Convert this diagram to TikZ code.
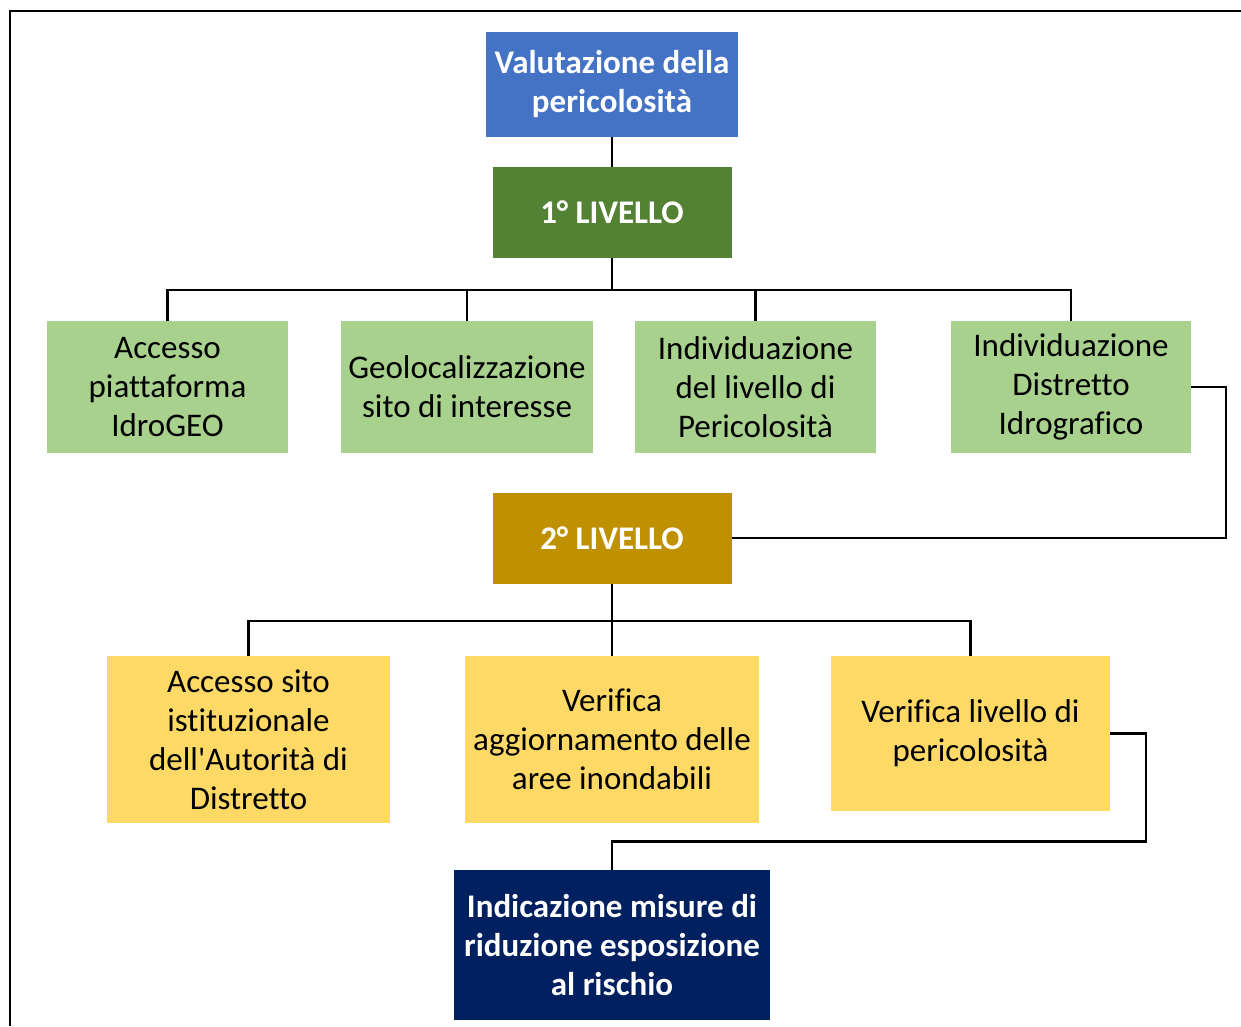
\documentclass[tikz,border=0pt]{standalone}
\usepackage{fontspec}
\setmainfont{Carlito}[Ligatures={NoCommon,TeXOff}]
\usepackage{tikz}
\usetikzlibrary{backgrounds}
\definecolor{hzblue}{HTML}{4472C4}
\definecolor{hzgreen}{HTML}{548235}
\definecolor{hzlight}{HTML}{A9D18E}
\definecolor{hzgold}{HTML}{BF9000}
\definecolor{hzyellow}{HTML}{FFD966}
\definecolor{hznavy}{HTML}{002060}

\begin{document}
\begin{tikzpicture}[x=1pt, y=-1pt,
  head/.style={fill=hzblue, text=white, align=center, inner sep=0pt,
    font=\fontsize{33}{39}\selectfont\bfseries},
  lvl/.style={inner sep=0pt, text=white, align=center, minimum width=239pt, minimum height=91pt,
    font=\fontsize{33}{39}\selectfont\bfseries},
  stepone/.style={fill=hzlight, align=center, inner sep=0pt, minimum height=132pt,
    font=\fontsize{33}{39}\selectfont},
  steptwo/.style={fill=hzyellow, align=center, inner sep=0pt,
    font=\fontsize{33}{39}\selectfont},
  edge/.style={draw=black, line width=2.2pt}]
  \useasboundingbox (0,0) rectangle (1241,1026);
  \draw[line width=1.4pt] (10,1026) -- (10,11) -- (1241,11);
  \node[head, minimum width=252pt, minimum height=105pt] (VP) at (612,84.5) {Valutazione della\\pericolosità};
  \node[lvl, fill=hzgreen] (L1) at (612,212.5) {1° LIVELLO};
  \node[stepone, minimum width=241pt] (A1) at (167.5,387) {Accesso\\piattaforma\\IdroGEO};
  \node[stepone, minimum width=252pt] (A2) at (467,387) {Geolocalizzazione\\sito di interesse};
  \node[stepone, minimum width=241pt] (A3) at (755.5,387) {Individuazione\\del livello di\\Pericolosità};
  \node[stepone, minimum width=240pt] (A4) at (1071,387) {Individuazione\\Distretto\\Idrografico};
  \node[lvl, fill=hzgold] (L2) at (612,538) {2° LIVELLO};
  \node[steptwo, minimum width=283pt, minimum height=167pt] (B1) at (248.5,739.5) {Accesso sito\\istituzionale\\dell'Autorità di\\Distretto};
  \node[steptwo, minimum width=294pt, minimum height=167pt] (B2) at (612,739.5) {Verifica\\aggiornamento delle\\aree inondabili};
  \node[steptwo, minimum width=279pt, minimum height=155pt] (B3) at (970.5,733.5) {Verifica livello di\\pericolosità};
  \node[head, fill=hznavy, minimum width=316pt, minimum height=150pt] (RM) at (612,945) {Indicazione misure di\\riduzione esposizione\\al rischio};
  \begin{scope}[on background layer]
    \draw[edge] (VP.south) -- (L1.north);
    \foreach \b in {A1,A2,A3,A4} \draw[edge] (L1.south) -- ++(0,32) -| (\b.north);
    \draw[edge] (A4.east) -- ++(35,0) |- (L2.east);
    \foreach \b in {B1,B2,B3} \draw[edge] (L2.south) -- ++(0,37) -| (\b.north);
    \draw[edge] (B3.east) -- ++(36,0) -- ++(0,108) -| (RM.north);
  \end{scope}
\end{tikzpicture}
\end{document}
